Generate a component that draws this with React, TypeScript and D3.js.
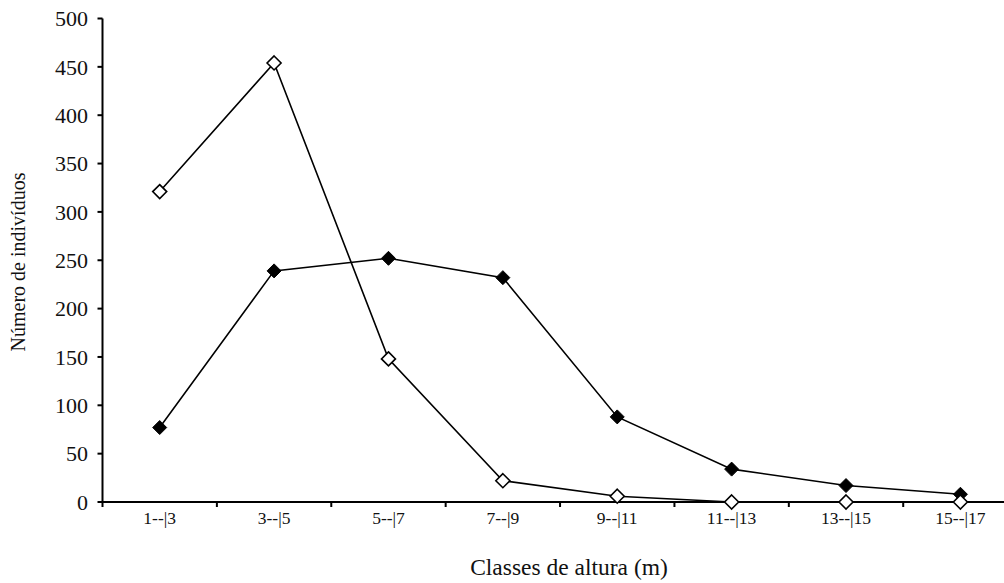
import React from "react";
import * as d3 from "d3";

const categories = ["1--|3", "3--|5", "5--|7", "7--|9", "9--|11", "11--|13", "13--|15", "15--|17"];
const openSeries = [321, 454, 148, 22, 6, 0, 0, 0];
const filledSeries = [77, 239, 252, 232, 88, 34, 17, 8];
const yTicks = [0, 50, 100, 150, 200, 250, 300, 350, 400, 450, 500];

const W = 1004;
const H = 583;
const x0 = 102.5;
const x1 = 1017.6;
const yBottom = 502;
const yTop = 18.5;

export default function App() {
  const x = d3.scaleBand<string>().domain(categories).range([x0, x1]).paddingInner(0).paddingOuter(0);
  const y = d3.scaleLinear().domain([0, 500]).range([yBottom, yTop]);
  const cx = (c: string) => (x(c) as number) + x.bandwidth() / 2;
  const line = d3
    .line<number>()
    .x((_, i) => cx(categories[i]))
    .y((d) => y(d));
  const diamond = (px: number, py: number, r: number) =>
    `M${px},${py - r}L${px + r},${py}L${px},${py + r}L${px - r},${py}Z`;
  const font = "'Liberation Serif', 'Times New Roman', serif";
  const boundaries = categories.slice(1).map((c) => x(c) as number);

  return (
    <svg
      width={W}
      height={H}
      style={{ position: "absolute", left: 0, top: 0, background: "#fff" }}
      fontFamily={font}
    >
      {/* axes */}
      <line x1={x0} x2={x0} y1={yTop} y2={yBottom + 1} stroke="#000" strokeWidth={2} />
      <line x1={x0} x2={W} y1={yBottom} y2={yBottom} stroke="#000" strokeWidth={2} />
      {yTicks.map((t) => (
        <g key={t}>
          <line x1={x0 - 5} x2={x0} y1={y(t)} y2={y(t)} stroke="#000" strokeWidth={2} />
          <text x={88} y={y(t)} dy="0.35em" textAnchor="end" fontSize={22} fill="#111">
            {t}
          </text>
        </g>
      ))}
      {boundaries.map((b, i) => (
        <line key={i} x1={b} x2={b} y1={yBottom} y2={yBottom + 5} stroke="#000" strokeWidth={2} />
      ))}
      <line x1={x0} x2={x0} y1={yBottom} y2={yBottom + 5} stroke="#000" strokeWidth={2} />
      {categories.map((c) => (
        <text key={c} x={cx(c)} y={524} textAnchor="middle" fontSize={17.5} fill="#111">
          {c}
        </text>
      ))}
      {/* lines */}
      <path d={line(openSeries) || ""} fill="none" stroke="#000" strokeWidth={1.6} />
      <path d={line(filledSeries) || ""} fill="none" stroke="#000" strokeWidth={1.6} />
      {filledSeries.map((v, i) => (
        <path key={"f" + i} d={diamond(cx(categories[i]), y(v), 7)} fill="#000" stroke="#000" strokeWidth={1} />
      ))}
      {openSeries.map((v, i) => (
        <path key={"o" + i} d={diamond(cx(categories[i]), y(v), 7)} fill="#fff" stroke="#000" strokeWidth={1.6} />
      ))}
      {/* titles */}
      <text
        transform={`translate(25,262) rotate(-90)`}
        textAnchor="middle"
        fontSize={20}
        fill="#111"
      >
        Número de indivíduos
      </text>
      <text x={569} y={575} textAnchor="middle" fontSize={23.5} fill="#111">
        Classes de altura (m)
      </text>
    </svg>
  );
}
